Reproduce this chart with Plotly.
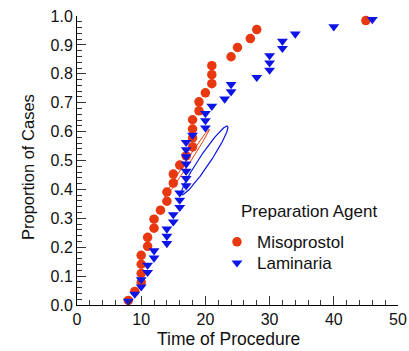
import numpy as np
import plotly.graph_objects as go

# Data
miso_time = [8, 9, 10, 10, 10, 10, 11, 11, 12, 12, 13, 14, 14, 15, 15, 16,
             17, 18, 18, 18, 18, 19, 19, 20, 21, 21, 21, 24, 25, 27, 28, 45]
miso_prop = [0.016, 0.047, 0.078, 0.109, 0.141, 0.172, 0.203, 0.234, 0.266, 0.297,
             0.328, 0.359, 0.391, 0.422, 0.453, 0.484, 0.516, 0.547, 0.578, 0.609,
             0.641, 0.672, 0.703, 0.734, 0.766, 0.797, 0.828, 0.859, 0.891, 0.922,
             0.953, 0.984]

lam_time = [8, 9, 10, 10, 11, 11, 12, 12, 14, 14, 14, 15, 15, 16, 16, 16, 17, 17, 17, 17,
            17, 17, 17, 18, 20, 20, 20, 21, 23, 24, 24, 28, 30, 30, 30, 32, 32, 34, 40, 46]
lam_prop = [0.013, 0.038, 0.063, 0.088, 0.113, 0.138, 0.163, 0.188, 0.213, 0.238,
            0.263, 0.288, 0.313, 0.338, 0.363, 0.388, 0.413, 0.438, 0.463, 0.488,
            0.513, 0.538, 0.563, 0.588, 0.613, 0.638, 0.663, 0.688, 0.713, 0.738,
            0.763, 0.788, 0.813, 0.838, 0.863, 0.888, 0.913, 0.938, 0.963, 0.988]

# Ellipses (center, major semi-axis vector, minor semi-axis vector) in data units
miso_ell_center = (17.15, 0.491)
miso_ell_major = (3.45, 0.1175)
miso_ell_minor = (0.26, -0.0038)
lam_ell_center = (19.86, 0.500)
lam_ell_major = (3.58, 0.119)
lam_ell_minor = (0.714, -0.0105)

x_ticks = [0, 10, 20, 30, 40, 50]
y_ticks = [0.0, 0.1, 0.2, 0.3, 0.4, 0.5, 0.6, 0.7, 0.8, 0.9, 1.0]

RED = "#E8380F"
BLUE = "#0C14E6"
FONT = "Liberation Sans, Arial, sans-serif"


def ellipse(center, major, minor, n=200):
    th = np.linspace(0, 2 * np.pi, n)
    x = center[0] + major[0] * np.cos(th) + minor[0] * np.sin(th)
    y = center[1] + major[1] * np.cos(th) + minor[1] * np.sin(th)
    return x, y


fig = go.Figure()

ex, ey = ellipse(miso_ell_center, miso_ell_major, miso_ell_minor)
fig.add_trace(go.Scatter(x=ex, y=ey, mode="lines", line=dict(color=RED, width=1),
                         showlegend=False, hoverinfo="skip"))
ex, ey = ellipse(lam_ell_center, lam_ell_major, lam_ell_minor)
fig.add_trace(go.Scatter(x=ex, y=ey, mode="lines", line=dict(color=BLUE, width=1.2),
                         showlegend=False, hoverinfo="skip"))

fig.add_trace(go.Scatter(x=miso_time, y=miso_prop, mode="markers", name="Misoprostol",
                         legend="legend",
                         marker=dict(symbol="circle", size=9.5, color=RED,
                                     line=dict(width=0)), cliponaxis=False))
fig.add_trace(go.Scatter(x=lam_time, y=lam_prop, mode="markers", name="Laminaria",
                         legend="legend2",
                         marker=dict(symbol="triangle-down", size=9.5, color=BLUE,
                                     line=dict(width=0)), cliponaxis=False))

axis_common = dict(
    showgrid=False, zeroline=False, showline=True, linecolor="#000", linewidth=1,
    ticks="inside", ticklen=9, tickwidth=1, tickcolor="#333",
    tickfont=dict(family=FONT, size=16, color="#111"),
    mirror=False, automargin=False, ticklabeloverflow="allow",
)

fig.update_xaxes(range=[0, 50], tickvals=x_ticks, ticktext=[str(v) for v in x_ticks],
                 minor=dict(dtick=2, ticks="inside", ticklen=5, tickcolor="#333", tickwidth=1),
                 **axis_common)
fig.update_yaxes(range=[0, 1], tickvals=y_ticks, ticktext=[f"{v:.1f}" for v in y_ticks],
                 minor=dict(dtick=0.02, ticks="inside", ticklen=5, tickcolor="#333", tickwidth=1),
                 **axis_common)

# axis titles
fig.add_annotation(text="Time of Procedure", xref="paper", yref="paper",
                   x=0.4735, y=-0.1176, xanchor="center", yanchor="middle", showarrow=False,
                   font=dict(family=FONT, size=17.5, color="#111"))
fig.add_annotation(text="Proportion of Cases", xref="paper", yref="paper", textangle=-90,
                   x=-0.1526, y=0.4775, xanchor="center", yanchor="middle", showarrow=False,
                   font=dict(family=FONT, size=16.5, color="#111"))

fig.add_annotation(text="Preparation Agent", xref="paper", yref="paper",
                   x=0.7227, y=0.325, xanchor="center", yanchor="middle", showarrow=False,
                   font=dict(family=FONT, size=17, color="#111"))

leg_common = dict(xanchor="left", yanchor="top",
                  font=dict(family=FONT, size=17, color="#111"),
                  bgcolor="rgba(0,0,0,0)", borderwidth=0, itemsizing="trace",
                  itemwidth=30)

fig.update_layout(
    width=409, height=351,
    margin=dict(l=77, r=11, t=16, b=46, pad=0),
    paper_bgcolor="white", plot_bgcolor="white",
    showlegend=True,
    legend=dict(x=0.4361, y=0.2793, **leg_common),
    legend2=dict(x=0.4361, y=0.2066, **leg_common),
)

fig.write_html("out.html", config={"displayModeBar": False},
               post_script="document.body.style.margin='0px';")
